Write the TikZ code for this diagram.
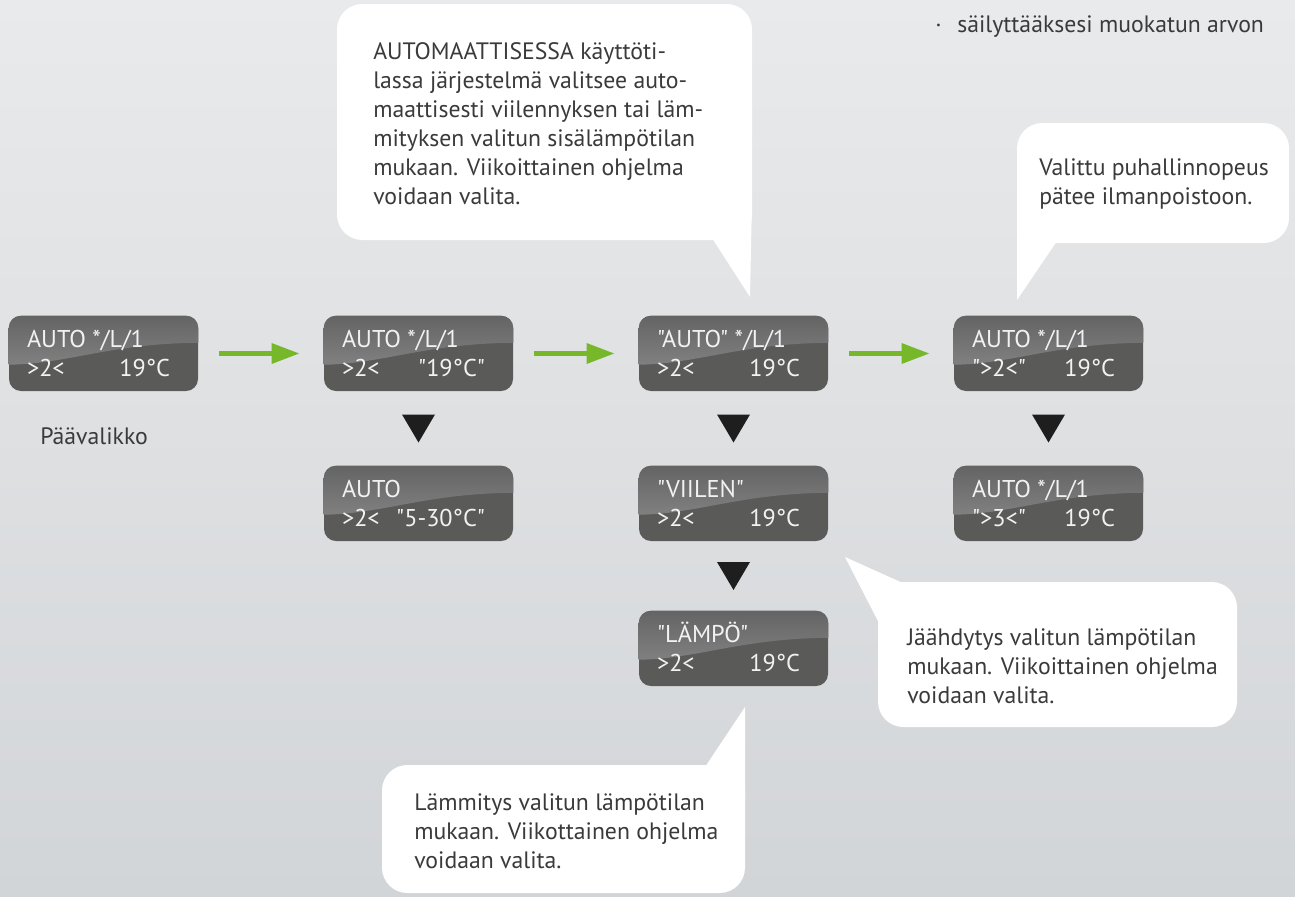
\documentclass[tikz,border=0pt]{standalone}
\usepackage{fontspec}
\setmainfont{PT Sans}
\newfontfamily\lcdfont{PT Sans}[Ligatures=TeXOff]
\usetikzlibrary{calc,arrows.meta}
\definecolor{bgtop}{HTML}{E9EAEB}
\definecolor{bgbot}{HTML}{D2D5D8}
\definecolor{lcdlow}{HTML}{5A5A59}
\definecolor{lcdtop}{HTML}{646464}
\definecolor{lcdmid}{HTML}{808080}
\definecolor{arrgreen}{HTML}{77B82A}
\definecolor{txtgray}{HTML}{3A3A3A}
\definecolor{trifill}{HTML}{1E1E1E}
\newcommand\mlines[1]{\begin{tabular}[t]{@{}l@{}}#1\end{tabular}}
\newcommand\lcdbox[5]{%
  \node[lcd] (#1) at (#2) {};
  \begin{scope}
    \clip[rounded corners=9pt] (#1.north west) rectangle (#1.south east);
    \shade[top color=lcdtop, bottom color=lcdmid]
      (#1.north west) -- (#1.north east) -- ([yshift=-20.25pt]#1.north east)
      .. controls ([xshift=75pt,yshift=-21pt]#1.north west) and ([xshift=45pt,yshift=-36pt]#1.north west)
      .. ([yshift=-36.75pt]#1.north west) -- cycle;
  \end{scope}
  \node[lcdtxt, anchor=base west] (#1t) at ([xshift=13.5pt,yshift=-24pt]#1.north west) {#3};
  \node[lcdtxt, anchor=base west] (#1l) at ([xshift=13.5pt,yshift=-45.75pt]#1.north west) {#4};
  \node[lcdtxt, anchor=base east] (#1r) at ([xshift=-21pt,yshift=-45.75pt]#1.north east) {#5};
}
\tikzset{
  lcd/.style={fill=lcdlow, rounded corners=9pt, minimum width=141.75pt, minimum height=56.25pt, inner sep=0pt},
  lcdtxt/.style={text=white!95!black, inner sep=0pt, font=\lcdfont\fontsize{18.2}{20}\selectfont},
  bubble/.style={fill=white, rounded corners=19pt, inner sep=0pt},
  tail/.style={fill=white},
  bubtxt/.style={text=txtgray, inner sep=0pt, anchor=base west, font=\fontsize{17.8}{21.75}\selectfont},
  flowarrow/.style={draw=arrgreen, line width=3.75pt, -{Triangle[length=21pt,width=14.5pt]}},
  downtri/.style={fill=trifill},
}
\begin{document}
\begin{tikzpicture}[x=0.75pt,y=-0.75pt]
\useasboundingbox (0,0) rectangle (1295,896);
\shade[top color=bgtop, bottom color=bgbot] (0,0) rectangle (1295,896);

% speech bubbles
\node[bubble, minimum width=311.25pt, minimum height=177pt] (bA) at (544.5,122) {};
\fill[tail] (712,238) -- (750,297) -- (752,200) -- cycle;
\node[bubble, minimum width=204pt, minimum height=90pt] (bB) at (1153,183) {};
\fill[tail] (1017,200) -- (1017,300) -- (1057,241) -- cycle;
\node[bubble, minimum width=269.25pt, minimum height=108.75pt] (bC) at (1057.5,654.5) {};
\fill[tail] (905,584) -- (845,557) -- (880,625) -- cycle;
\node[bubble, minimum width=272.25pt, minimum height=96pt] (bD) at (563.5,829) {};
\fill[tail] (705,767) -- (745,707) -- (745,800) -- cycle;

\node[bubtxt] (tA) at (373,59) {\mlines{AUTOMAATTISESSA käyttöti-\\lassa järjestelmä valitsee auto-\\maattisesti viilennyksen tai läm-\\mityksen valitun sisälämpötilan\\mukaan. Viikoittainen ohjelma\\voidaan valita.}};
\node[bubtxt] (tB) at (1039,175) {\mlines{Valittu puhallinnopeus\\pätee ilmanpoistoon.}};
\node[bubtxt] (tC) at (907,645) {\mlines{Jäähdytys valitun lämpötilan\\mukaan. Viikoittainen ohjelma\\voidaan valita.}};
\node[bubtxt] (tD) at (414,810) {\mlines{Lämmitys valitun lämpötilan\\mukaan. Viikottainen ohjelma\\voidaan valita.}};

% top right note
\node[bubtxt] (dot) at (935,32) {·};
\node[bubtxt] (note) at (957,32) {säilyttääksesi muokatun arvon};

% displays
\lcdbox{b1}{103.5,353.5}{AUTO */L/1}{>2<}{19°C}
\lcdbox{b2}{418.5,353.5}{AUTO */L/1}{>2<}{"19°C"}
\lcdbox{b3}{733.5,353.5}{"AUTO" */L/1}{>2<}{19°C}
\lcdbox{b4}{1048.5,353.5}{AUTO */L/1}{">2<"}{19°C}
\lcdbox{b5}{418.5,503.5}{AUTO}{>2<}{"5-30°C"}
\lcdbox{b6}{733.5,503.5}{"VIILEN"}{>2<}{19°C}
\lcdbox{b7}{733.5,648.5}{"LÄMPÖ"}{>2<}{19°C}
\lcdbox{b8}{1048.5,503.5}{AUTO */L/1}{">3<"}{19°C}

\node[bubtxt] (menu) at (40,444) {Päävalikko};

% green arrows
\draw[flowarrow] ([xshift=15.75pt]b1.east) -- ([xshift=-18pt]b2.west);
\draw[flowarrow] ([xshift=15.75pt]b2.east) -- ([xshift=-18pt]b3.west);
\draw[flowarrow] ([xshift=15.75pt]b3.east) -- ([xshift=-18pt]b4.west);

% down triangles
\fill[downtri] ($(b2.south)!0.5!(b5.north)+(-16.5,-14)$) -- ++(33,0) -- ++(-16.5,28) -- cycle;
\fill[downtri] ($(b3.south)!0.5!(b6.north)+(-16.5,-14)$) -- ++(33,0) -- ++(-16.5,28) -- cycle;
\fill[downtri] ($(b6.south)!0.5!(b7.north)+(-16.5,-14)$) -- ++(33,0) -- ++(-16.5,28) -- cycle;
\fill[downtri] ($(b4.south)!0.5!(b8.north)+(-16.5,-14)$) -- ++(33,0) -- ++(-16.5,28) -- cycle;
\end{tikzpicture}
\end{document}
